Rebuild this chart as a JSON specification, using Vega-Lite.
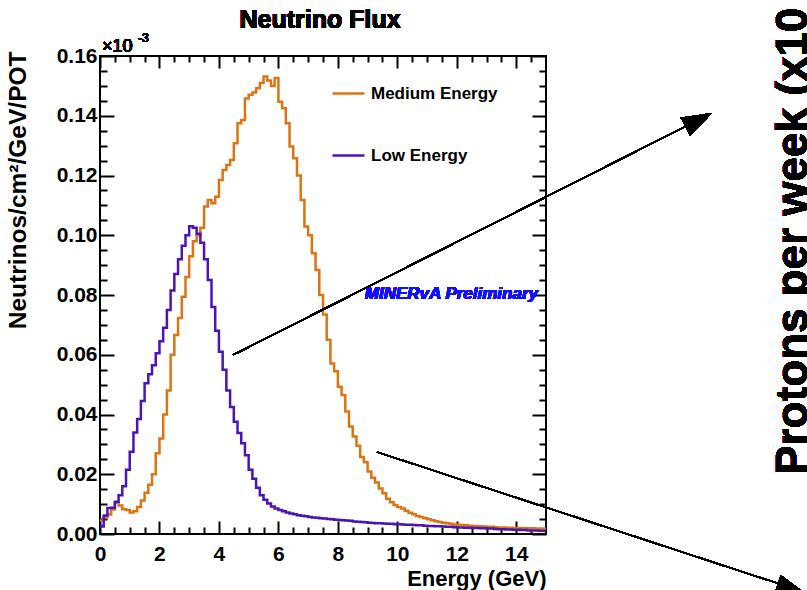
{
  "$schema": "https://vega.github.io/schema/vega-lite/v6.json",
  "width": 446,
  "height": 478,
  "autosize": {"type": "none"},
  "padding": {"left": 100, "top": 56, "right": 261, "bottom": 56},
  "background": "white",
  "config": {
    "view": {"stroke": "black", "strokeWidth": 2},
    "axis": {"grid": false, "domain": false, "tickColor": "black", "tickWidth": 2, "labelFont": "Liberation Sans", "labelFontWeight": "bold", "labelFontSize": 21, "labelColor": "black", "titleFont": "Liberation Sans", "titleFontWeight": "bold", "titleFontSize": 22, "titleColor": "black", "labelFlush": false, "labelOverlap": false, "labelBound": false}
  },
  "data": {"values": [
    {"E":0,"v":0.0045,"s":"Medium Energy"},{"E":0.125,"v":0.0055,"s":"Medium Energy"},{"E":0.25,"v":0.0065,"s":"Medium Energy"},{"E":0.375,"v":0.0082,"s":"Medium Energy"},{"E":0.5,"v":0.0105,"s":"Medium Energy"},{"E":0.625,"v":0.0095,"s":"Medium Energy"},{"E":0.75,"v":0.0083,"s":"Medium Energy"},{"E":0.875,"v":0.008,"s":"Medium Energy"},
    {"E":1,"v":0.0072,"s":"Medium Energy"},{"E":1.125,"v":0.0076,"s":"Medium Energy"},{"E":1.25,"v":0.009,"s":"Medium Energy"},{"E":1.375,"v":0.0112,"s":"Medium Energy"},{"E":1.5,"v":0.0138,"s":"Medium Energy"},{"E":1.625,"v":0.0165,"s":"Medium Energy"},{"E":1.75,"v":0.02,"s":"Medium Energy"},{"E":1.875,"v":0.027,"s":"Medium Energy"},
    {"E":2,"v":0.032,"s":"Medium Energy"},{"E":2.125,"v":0.04,"s":"Medium Energy"},{"E":2.25,"v":0.048,"s":"Medium Energy"},{"E":2.375,"v":0.06,"s":"Medium Energy"},{"E":2.5,"v":0.0666,"s":"Medium Energy"},{"E":2.625,"v":0.0723,"s":"Medium Energy"},{"E":2.75,"v":0.0794,"s":"Medium Energy"},{"E":2.875,"v":0.086,"s":"Medium Energy"},
    {"E":3,"v":0.093,"s":"Medium Energy"},{"E":3.125,"v":0.098,"s":"Medium Energy"},{"E":3.25,"v":0.1,"s":"Medium Energy"},{"E":3.375,"v":0.1025,"s":"Medium Energy"},{"E":3.5,"v":0.1096,"s":"Medium Energy"},{"E":3.625,"v":0.1118,"s":"Medium Energy"},{"E":3.75,"v":0.1107,"s":"Medium Energy"},{"E":3.875,"v":0.1129,"s":"Medium Energy"},
    {"E":4,"v":0.1185,"s":"Medium Energy"},{"E":4.125,"v":0.1218,"s":"Medium Energy"},{"E":4.25,"v":0.1235,"s":"Medium Energy"},{"E":4.375,"v":0.1252,"s":"Medium Energy"},{"E":4.5,"v":0.1308,"s":"Medium Energy"},{"E":4.625,"v":0.1375,"s":"Medium Energy"},{"E":4.75,"v":0.1386,"s":"Medium Energy"},{"E":4.875,"v":0.1458,"s":"Medium Energy"},
    {"E":5,"v":0.147,"s":"Medium Energy"},{"E":5.125,"v":0.1478,"s":"Medium Energy"},{"E":5.25,"v":0.1492,"s":"Medium Energy"},{"E":5.375,"v":0.151,"s":"Medium Energy"},{"E":5.5,"v":0.1531,"s":"Medium Energy"},{"E":5.625,"v":0.1518,"s":"Medium Energy"},{"E":5.75,"v":0.15,"s":"Medium Energy"},{"E":5.875,"v":0.1526,"s":"Medium Energy"},
    {"E":6,"v":0.1447,"s":"Medium Energy"},{"E":6.125,"v":0.1425,"s":"Medium Energy"},{"E":6.25,"v":0.1375,"s":"Medium Energy"},{"E":6.375,"v":0.1297,"s":"Medium Energy"},{"E":6.5,"v":0.1258,"s":"Medium Energy"},{"E":6.625,"v":0.12,"s":"Medium Energy"},{"E":6.75,"v":0.1118,"s":"Medium Energy"},{"E":6.875,"v":0.1029,"s":"Medium Energy"},
    {"E":7,"v":0.1,"s":"Medium Energy"},{"E":7.125,"v":0.094,"s":"Medium Energy"},{"E":7.25,"v":0.0884,"s":"Medium Energy"},{"E":7.375,"v":0.08,"s":"Medium Energy"},{"E":7.5,"v":0.0735,"s":"Medium Energy"},{"E":7.625,"v":0.065,"s":"Medium Energy"},{"E":7.75,"v":0.0571,"s":"Medium Energy"},{"E":7.875,"v":0.0545,"s":"Medium Energy"},
    {"E":8,"v":0.0493,"s":"Medium Energy"},{"E":8.125,"v":0.0465,"s":"Medium Energy"},{"E":8.25,"v":0.041,"s":"Medium Energy"},{"E":8.375,"v":0.036,"s":"Medium Energy"},{"E":8.5,"v":0.0326,"s":"Medium Energy"},{"E":8.625,"v":0.0295,"s":"Medium Energy"},{"E":8.75,"v":0.0258,"s":"Medium Energy"},{"E":8.875,"v":0.024,"s":"Medium Energy"},
    {"E":9,"v":0.0209,"s":"Medium Energy"},{"E":9.125,"v":0.0188,"s":"Medium Energy"},{"E":9.25,"v":0.0172,"s":"Medium Energy"},{"E":9.375,"v":0.0152,"s":"Medium Energy"},{"E":9.5,"v":0.0136,"s":"Medium Energy"},{"E":9.625,"v":0.0118,"s":"Medium Energy"},{"E":9.75,"v":0.0106,"s":"Medium Energy"},{"E":9.875,"v":0.0097,"s":"Medium Energy"},
    {"E":10,"v":0.009,"s":"Medium Energy"},{"E":10.125,"v":0.0085,"s":"Medium Energy"},{"E":10.25,"v":0.0078,"s":"Medium Energy"},{"E":10.375,"v":0.0071,"s":"Medium Energy"},{"E":10.5,"v":0.0066,"s":"Medium Energy"},{"E":10.625,"v":0.006,"s":"Medium Energy"},{"E":10.75,"v":0.0057,"s":"Medium Energy"},{"E":10.875,"v":0.0053,"s":"Medium Energy"},
    {"E":11,"v":0.0049,"s":"Medium Energy"},{"E":11.125,"v":0.0046,"s":"Medium Energy"},{"E":11.25,"v":0.0043,"s":"Medium Energy"},{"E":11.375,"v":0.004,"s":"Medium Energy"},{"E":11.5,"v":0.0038,"s":"Medium Energy"},{"E":11.625,"v":0.0036,"s":"Medium Energy"},{"E":11.75,"v":0.0034,"s":"Medium Energy"},{"E":11.875,"v":0.0032,"s":"Medium Energy"},
    {"E":12,"v":0.0031,"s":"Medium Energy"},{"E":12.125,"v":0.003,"s":"Medium Energy"},{"E":12.25,"v":0.0029,"s":"Medium Energy"},{"E":12.375,"v":0.0028,"s":"Medium Energy"},{"E":12.5,"v":0.0027,"s":"Medium Energy"},{"E":12.625,"v":0.0027,"s":"Medium Energy"},{"E":12.75,"v":0.0026,"s":"Medium Energy"},{"E":12.875,"v":0.0025,"s":"Medium Energy"},
    {"E":13,"v":0.0024,"s":"Medium Energy"},{"E":13.125,"v":0.0024,"s":"Medium Energy"},{"E":13.25,"v":0.0023,"s":"Medium Energy"},{"E":13.375,"v":0.0022,"s":"Medium Energy"},{"E":13.5,"v":0.0022,"s":"Medium Energy"},{"E":13.625,"v":0.0021,"s":"Medium Energy"},{"E":13.75,"v":0.0021,"s":"Medium Energy"},{"E":13.875,"v":0.002,"s":"Medium Energy"},
    {"E":14,"v":0.002,"s":"Medium Energy"},{"E":14.125,"v":0.002,"s":"Medium Energy"},{"E":14.25,"v":0.0019,"s":"Medium Energy"},{"E":14.375,"v":0.0019,"s":"Medium Energy"},{"E":14.5,"v":0.0019,"s":"Medium Energy"},{"E":14.625,"v":0.0018,"s":"Medium Energy"},{"E":14.75,"v":0.0018,"s":"Medium Energy"},{"E":14.875,"v":0.0018,"s":"Medium Energy"},{"E":15,"v":0.0018,"s":"Medium Energy"},
    {"E":0,"v":0.0025,"s":"Low Energy"},{"E":0.125,"v":0.0062,"s":"Low Energy"},{"E":0.25,"v":0.0087,"s":"Low Energy"},{"E":0.375,"v":0.0088,"s":"Low Energy"},{"E":0.5,"v":0.0108,"s":"Low Energy"},{"E":0.625,"v":0.013,"s":"Low Energy"},{"E":0.75,"v":0.016,"s":"Low Energy"},{"E":0.875,"v":0.0215,"s":"Low Energy"},
    {"E":1,"v":0.0275,"s":"Low Energy"},{"E":1.125,"v":0.034,"s":"Low Energy"},{"E":1.25,"v":0.0385,"s":"Low Energy"},{"E":1.375,"v":0.0445,"s":"Low Energy"},{"E":1.5,"v":0.0505,"s":"Low Energy"},{"E":1.625,"v":0.0535,"s":"Low Energy"},{"E":1.75,"v":0.0565,"s":"Low Energy"},{"E":1.875,"v":0.0605,"s":"Low Energy"},
    {"E":2,"v":0.0645,"s":"Low Energy"},{"E":2.125,"v":0.069,"s":"Low Energy"},{"E":2.25,"v":0.075,"s":"Low Energy"},{"E":2.375,"v":0.0815,"s":"Low Energy"},{"E":2.5,"v":0.087,"s":"Low Energy"},{"E":2.625,"v":0.092,"s":"Low Energy"},{"E":2.75,"v":0.0965,"s":"Low Energy"},{"E":2.875,"v":0.1,"s":"Low Energy"},
    {"E":3,"v":0.103,"s":"Low Energy"},{"E":3.125,"v":0.1025,"s":"Low Energy"},{"E":3.25,"v":0.1005,"s":"Low Energy"},{"E":3.375,"v":0.0975,"s":"Low Energy"},{"E":3.5,"v":0.092,"s":"Low Energy"},{"E":3.625,"v":0.085,"s":"Low Energy"},{"E":3.75,"v":0.076,"s":"Low Energy"},{"E":3.875,"v":0.068,"s":"Low Energy"},
    {"E":4,"v":0.061,"s":"Low Energy"},{"E":4.125,"v":0.055,"s":"Low Energy"},{"E":4.25,"v":0.048,"s":"Low Energy"},{"E":4.375,"v":0.0425,"s":"Low Energy"},{"E":4.5,"v":0.0376,"s":"Low Energy"},{"E":4.625,"v":0.0338,"s":"Low Energy"},{"E":4.75,"v":0.0304,"s":"Low Energy"},{"E":4.875,"v":0.0264,"s":"Low Energy"},
    {"E":5,"v":0.0215,"s":"Low Energy"},{"E":5.125,"v":0.0185,"s":"Low Energy"},{"E":5.25,"v":0.0155,"s":"Low Energy"},{"E":5.375,"v":0.013,"s":"Low Energy"},{"E":5.5,"v":0.0115,"s":"Low Energy"},{"E":5.625,"v":0.0102,"s":"Low Energy"},{"E":5.75,"v":0.0092,"s":"Low Energy"},{"E":5.875,"v":0.0085,"s":"Low Energy"},
    {"E":6,"v":0.008,"s":"Low Energy"},{"E":6.125,"v":0.0076,"s":"Low Energy"},{"E":6.25,"v":0.0072,"s":"Low Energy"},{"E":6.375,"v":0.0069,"s":"Low Energy"},{"E":6.5,"v":0.0066,"s":"Low Energy"},{"E":6.625,"v":0.0063,"s":"Low Energy"},{"E":6.75,"v":0.0061,"s":"Low Energy"},{"E":6.875,"v":0.0059,"s":"Low Energy"},
    {"E":7,"v":0.0057,"s":"Low Energy"},{"E":7.125,"v":0.0055,"s":"Low Energy"},{"E":7.25,"v":0.0054,"s":"Low Energy"},{"E":7.375,"v":0.0053,"s":"Low Energy"},{"E":7.5,"v":0.0052,"s":"Low Energy"},{"E":7.625,"v":0.005,"s":"Low Energy"},{"E":7.75,"v":0.0049,"s":"Low Energy"},{"E":7.875,"v":0.0048,"s":"Low Energy"},
    {"E":8,"v":0.0047,"s":"Low Energy"},{"E":8.125,"v":0.0046,"s":"Low Energy"},{"E":8.25,"v":0.0045,"s":"Low Energy"},{"E":8.375,"v":0.0044,"s":"Low Energy"},{"E":8.5,"v":0.0042,"s":"Low Energy"},{"E":8.625,"v":0.0041,"s":"Low Energy"},{"E":8.75,"v":0.004,"s":"Low Energy"},{"E":8.875,"v":0.0039,"s":"Low Energy"},
    {"E":9,"v":0.0038,"s":"Low Energy"},{"E":9.125,"v":0.0037,"s":"Low Energy"},{"E":9.25,"v":0.0036,"s":"Low Energy"},{"E":9.375,"v":0.0036,"s":"Low Energy"},{"E":9.5,"v":0.0035,"s":"Low Energy"},{"E":9.625,"v":0.0034,"s":"Low Energy"},{"E":9.75,"v":0.0034,"s":"Low Energy"},{"E":9.875,"v":0.0033,"s":"Low Energy"},
    {"E":10,"v":0.0033,"s":"Low Energy"},{"E":10.125,"v":0.0032,"s":"Low Energy"},{"E":10.25,"v":0.0031,"s":"Low Energy"},{"E":10.375,"v":0.0031,"s":"Low Energy"},{"E":10.5,"v":0.003,"s":"Low Energy"},{"E":10.625,"v":0.0029,"s":"Low Energy"},{"E":10.75,"v":0.0029,"s":"Low Energy"},{"E":10.875,"v":0.0028,"s":"Low Energy"},
    {"E":11,"v":0.0027,"s":"Low Energy"},{"E":11.125,"v":0.0027,"s":"Low Energy"},{"E":11.25,"v":0.0026,"s":"Low Energy"},{"E":11.375,"v":0.0026,"s":"Low Energy"},{"E":11.5,"v":0.0025,"s":"Low Energy"},{"E":11.625,"v":0.0024,"s":"Low Energy"},{"E":11.75,"v":0.0024,"s":"Low Energy"},{"E":11.875,"v":0.0023,"s":"Low Energy"},
    {"E":12,"v":0.0022,"s":"Low Energy"},{"E":12.125,"v":0.0022,"s":"Low Energy"},{"E":12.25,"v":0.0021,"s":"Low Energy"},{"E":12.375,"v":0.0021,"s":"Low Energy"},{"E":12.5,"v":0.002,"s":"Low Energy"},{"E":12.625,"v":0.002,"s":"Low Energy"},{"E":12.75,"v":0.0019,"s":"Low Energy"},{"E":12.875,"v":0.0019,"s":"Low Energy"},
    {"E":13,"v":0.0018,"s":"Low Energy"},{"E":13.125,"v":0.0018,"s":"Low Energy"},{"E":13.25,"v":0.0017,"s":"Low Energy"},{"E":13.375,"v":0.0016,"s":"Low Energy"},{"E":13.5,"v":0.0016,"s":"Low Energy"},{"E":13.625,"v":0.0015,"s":"Low Energy"},{"E":13.75,"v":0.0015,"s":"Low Energy"},{"E":13.875,"v":0.0014,"s":"Low Energy"},
    {"E":14,"v":0.0014,"s":"Low Energy"},{"E":14.125,"v":0.0013,"s":"Low Energy"},{"E":14.25,"v":0.0013,"s":"Low Energy"},{"E":14.375,"v":0.0012,"s":"Low Energy"},{"E":14.5,"v":0.0012,"s":"Low Energy"},{"E":14.625,"v":0.0012,"s":"Low Energy"},{"E":14.75,"v":0.0011,"s":"Low Energy"},{"E":14.875,"v":0.0011,"s":"Low Energy"},{"E":15,"v":0.0011,"s":"Low Energy"}
  ]},
  "resolve": {"axis": {"x": "independent", "y": "independent"}},
  "layer": [
    {
      "mark": {"type": "line", "interpolate": "step-after", "strokeWidth": 2.5},
      "encoding": {
        "x": {"field": "E", "type": "quantitative", "scale": {"domain": [0, 15], "nice": false, "zero": false},
          "axis": {"orient": "bottom", "values": [0, 2, 4, 6, 8, 10, 12, 14], "tickSize": -13, "labelPadding": 22, "title": "Energy (GeV)", "titleAnchor": "end", "titleAlign": "right", "titleBaseline": "alphabetic", "titleX": 446, "titleY": 51}},
        "y": {"field": "v", "type": "quantitative", "scale": {"domain": [0, 0.16], "nice": false},
          "axis": {"orient": "left", "values": [0, 0.02, 0.04, 0.06, 0.08, 0.1, 0.12, 0.14, 0.16], "format": ".2f", "tickSize": -14, "labelPadding": 17, "title": "Neutrinos/cm²/GeV/POT", "titleFontSize": 24.5, "titleAngle": 270, "titleAlign": "right", "titleBaseline": "alphabetic", "titleX": -75, "titleY": -5}},
        "color": {"field": "s", "type": "nominal", "sort": null,
          "scale": {"domain": ["Medium Energy", "Low Energy"], "range": ["#dc7412", "#4b14b4"]},
          "legend": {"orient": "none", "legendX": 231, "legendY": 20, "title": null, "symbolType": "stroke", "symbolSize": 1024, "symbolStrokeWidth": 2.5, "labelFont": "Liberation Sans", "labelFontWeight": "bold", "labelFontSize": 17, "labelColor": "black", "labelOffset": 5, "rowPadding": 36}}
      }
    },
    {
      "mark": {"type": "point", "opacity": 0},
      "encoding": {
        "x": {"field": "E", "type": "quantitative", "scale": {"domain": [0, 15], "nice": false, "zero": false},
          "axis": {"orient": "bottom", "values": [0.5, 1, 1.5, 2.5, 3, 3.5, 4.5, 5, 5.5, 6.5, 7, 7.5, 8.5, 9, 9.5, 10.5, 11, 11.5, 12.5, 13, 13.5, 14.5], "tickSize": -7, "labels": false, "title": null}},
        "y": {"field": "v", "type": "quantitative", "scale": {"domain": [0, 0.16], "nice": false},
          "axis": {"orient": "left", "values": [0.005, 0.01, 0.015, 0.025, 0.03, 0.035, 0.045, 0.05, 0.055, 0.065, 0.07, 0.075, 0.085, 0.09, 0.095, 0.105, 0.11, 0.115, 0.125, 0.13, 0.135, 0.145, 0.15, 0.155], "tickSize": -7, "labels": false, "title": null}}
      }
    },
    {
      "mark": {"type": "point", "opacity": 0},
      "encoding": {
        "x": {"field": "E", "type": "quantitative", "scale": {"domain": [0, 15], "nice": false, "zero": false},
          "axis": {"orient": "top", "values": [0, 2, 4, 6, 8, 10, 12, 14], "tickSize": -12, "labels": false, "title": null}},
        "y": {"field": "v", "type": "quantitative", "scale": {"domain": [0, 0.16], "nice": false},
          "axis": {"orient": "right", "values": [0, 0.02, 0.04, 0.06, 0.08, 0.1, 0.12, 0.14, 0.16], "tickSize": -14, "labels": false, "title": null}}
      }
    },
    {
      "mark": {"type": "point", "opacity": 0},
      "encoding": {
        "x": {"field": "E", "type": "quantitative", "scale": {"domain": [0, 15], "nice": false, "zero": false},
          "axis": {"orient": "top", "values": [0.5, 1, 1.5, 2.5, 3, 3.5, 4.5, 5, 5.5, 6.5, 7, 7.5, 8.5, 9, 9.5, 10.5, 11, 11.5, 12.5, 13, 13.5, 14.5], "tickSize": -6, "labels": false, "title": null}},
        "y": {"field": "v", "type": "quantitative", "scale": {"domain": [0, 0.16], "nice": false},
          "axis": {"orient": "right", "values": [0.005, 0.01, 0.015, 0.025, 0.03, 0.035, 0.045, 0.05, 0.055, 0.065, 0.07, 0.075, 0.085, 0.09, 0.095, 0.105, 0.11, 0.115, 0.125, 0.13, 0.135, 0.145, 0.15, 0.155], "tickSize": -7, "labels": false, "title": null}}
      }
    },
    {
      "mark": {"type": "text", "text": "Neutrino Flux", "font": "Liberation Sans", "fontSize": 25, "fontWeight": "bold", "align": "center", "baseline": "alphabetic", "dx": -3, "dy": -28, "color": "black"},
      "encoding": {
        "x": {"datum": 7.5, "type": "quantitative", "axis": null, "scale": {"domain": [0, 15], "nice": false, "zero": false}},
        "y": {"datum": 0.16, "type": "quantitative", "axis": null, "scale": {"domain": [0, 0.16], "nice": false}}
      }
    },
    {
      "mark": {"type": "text", "text": "×10", "font": "Liberation Sans", "fontSize": 18, "align": "left", "baseline": "alphabetic", "dx": 2, "dy": -4, "color": "black"},
      "encoding": {
        "x": {"datum": 0, "type": "quantitative", "axis": null, "scale": {"domain": [0, 15], "nice": false, "zero": false}},
        "y": {"datum": 0.16, "type": "quantitative", "axis": null, "scale": {"domain": [0, 0.16], "nice": false}}
      }
    },
    {
      "mark": {"type": "text", "text": "-3", "font": "Liberation Sans", "fontSize": 12, "align": "left", "baseline": "alphabetic", "dx": 38, "dy": -14, "color": "black"},
      "encoding": {
        "x": {"datum": 0, "type": "quantitative", "axis": null, "scale": {"domain": [0, 15], "nice": false, "zero": false}},
        "y": {"datum": 0.16, "type": "quantitative", "axis": null, "scale": {"domain": [0, 0.16], "nice": false}}
      }
    },
    {
      "mark": {"type": "text", "text": "MINERvA Preliminary", "font": "Liberation Sans", "fontSize": 17, "fontWeight": "bold", "fontStyle": "italic", "align": "right", "baseline": "alphabetic", "dx": -8, "color": "#1010ff"},
      "encoding": {
        "x": {"datum": 15, "type": "quantitative", "axis": null, "scale": {"domain": [0, 15], "nice": false, "zero": false}},
        "y": {"datum": 0.0785, "type": "quantitative", "axis": null, "scale": {"domain": [0, 0.16], "nice": false}}
      }
    },
    {
      "mark": {"type": "rule", "color": "black", "strokeWidth": 1.2},
      "encoding": {
        "x": {"datum": 4.474, "type": "quantitative", "axis": null, "scale": {"domain": [0, 15], "nice": false, "zero": false}},
        "y": {"datum": 0.0599, "type": "quantitative", "axis": null, "scale": {"domain": [0, 0.16], "nice": false}},
        "x2": {"datum": 20.3},
        "y2": {"datum": 0.1395}
      }
    },
    {
      "mark": {"type": "rule", "color": "black", "strokeWidth": 1.2},
      "encoding": {
        "x": {"datum": 9.317, "type": "quantitative", "axis": null, "scale": {"domain": [0, 15], "nice": false, "zero": false}},
        "y": {"datum": 0.02745, "type": "quantitative", "axis": null, "scale": {"domain": [0, 0.16], "nice": false}},
        "x2": {"datum": 23.4},
        "y2": {"datum": -0.0185}
      }
    },
    {
      "mark": {"type": "point", "shape": "M0,0L0.5,1.5L-0.5,1.5Z", "filled": true, "color": "black", "opacity": 1, "size": 1600, "angle": 63.2},
      "encoding": {
        "x": {"datum": 20.585, "type": "quantitative", "axis": null, "scale": {"domain": [0, 15], "nice": false, "zero": false}},
        "y": {"datum": 0.1409, "type": "quantitative", "axis": null, "scale": {"domain": [0, 0.16], "nice": false}}
      }
    },
    {
      "mark": {"type": "point", "shape": "M0,0L0.5,1.5L-0.5,1.5Z", "filled": true, "color": "black", "opacity": 1, "size": 1600, "angle": 108.3},
      "encoding": {
        "x": {"datum": 23.747, "type": "quantitative", "axis": null, "scale": {"domain": [0, 15], "nice": false, "zero": false}},
        "y": {"datum": -0.02008, "type": "quantitative", "axis": null, "scale": {"domain": [0, 0.16], "nice": false}}
      }
    },
    {
      "mark": {"type": "text", "text": "Protons per week (x10", "font": "Liberation Sans", "fontSize": 44, "fontWeight": "bold", "angle": 270, "align": "left", "baseline": "alphabetic", "color": "black"},
      "encoding": {
        "x": {"datum": 23.78, "type": "quantitative", "axis": null, "scale": {"domain": [0, 15], "nice": false, "zero": false}},
        "y": {"datum": 0.0198, "type": "quantitative", "axis": null, "scale": {"domain": [0, 0.16], "nice": false}}
      }
    }
  ]
}
